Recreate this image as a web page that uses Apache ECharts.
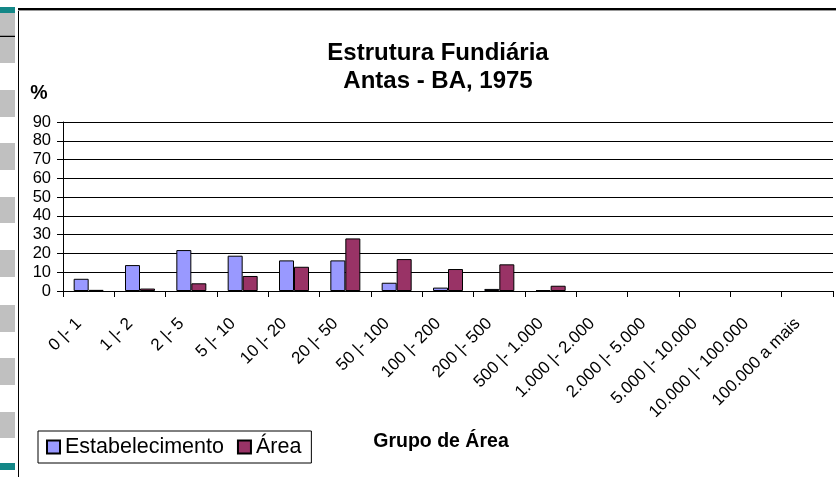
<!DOCTYPE html>
<html>
<head>
<meta charset="utf-8">
<script src="https://cdn.jsdelivr.net/npm/echarts@6/dist/echarts.min.js"></script>
<style>
html,body{margin:0;padding:0;background:#fff;}
#chart{width:836px;height:477px;}
</style>
</head>
<body>
<div id="chart"></div>
<script>
var categories = ['0 |- 1','1 |- 2','2 |- 5','5 |- 10','10 |- 20','20 |- 50','50 |- 100','100 |- 200','200 |- 500','500 |- 1.000','1.000 |- 2.000','2.000 |- 5.000','5.000 |- 10.000','10.000 |- 100.000','100.000 a mais'];
var estabelecimento = [6.5, 13.8, 21.8, 18.8, 16.3, 16.3, 4.4, 1.8, 1.1, 0.4, 0, 0, 0, 0, 0];
var area = [0.6, 1.3, 4.1, 8.0, 12.9, 28.0, 17.0, 11.7, 14.2, 2.8, 0, 0, 0, 0, 0];
var yTicks = {min: 0, max: 90, interval: 10};

var FONT = '"Liberation Sans", Arial, sans-serif';
var chart = echarts.init(document.getElementById('chart'), null, {renderer: 'canvas'});

function hideZeros(arr){ return arr.map(function(v){ return v === 0 ? '-' : v; }); }

var deco = [];
var grayBoxes = [[13,36],[38,63],[90,117],[143,170],[197,223],[250,277],[305,332],[358,385],[412,438]];
grayBoxes.forEach(function(b){
  deco.push({type:'rect', shape:{x:0, y:b[0], width:15, height:b[1]-b[0]}, style:{fill:'#c0c0c0'}, silent:true});
});
deco.push({type:'rect', shape:{x:0, y:7, width:15, height:6}, style:{fill:'#138787'}, silent:true});
deco.push({type:'rect', shape:{x:0, y:463, width:15, height:7}, style:{fill:'#138787'}, silent:true});
deco.push({type:'line', shape:{x1:0, y1:36.5, x2:15, y2:36.5}, style:{stroke:'#000', lineWidth:1.5}, silent:true});
deco.push({type:'line', shape:{x1:18.5, y1:8, x2:18.5, y2:477}, style:{stroke:'#000', lineWidth:1}, silent:true});
deco.push({type:'line', shape:{x1:18, y1:9, x2:836, y2:9}, style:{stroke:'#000', lineWidth:2}, silent:true});
deco.push({type:'line', shape:{x1:18, y1:10.5, x2:836, y2:10.5}, style:{stroke:'#999', lineWidth:1}, silent:true});

var option = {
  animation: false,
  backgroundColor: '#fff',
  textStyle: {fontFamily: FONT},
  graphic: deco,
  title: {
    text: 'Estrutura Fundiária\nAntas - BA, 1975',
    left: 433,
    top: 34,
    textAlign: 'center',
    textStyle: {fontFamily: FONT, fontSize: 24, fontWeight: 'bold', color: '#000', lineHeight: 28}
  },
  legend: {
    left: 38,
    top: 431,
    orient: 'horizontal',
    itemWidth: 13,
    itemHeight: 13,
    itemGap: 13,
    padding: [5, 10, 5, 8],
    borderColor: '#000',
    borderWidth: 1,
    textStyle: {fontFamily: FONT, fontSize: 21.5, color: '#000'},
    data: [{name:'Estabelecimento', icon:'rect'}, {name:'Área', icon:'rect'}]
  },
  grid: {left: 63, right: 3, top: 122, bottom: 186, containLabel: false},
  xAxis: {
    type: 'category',
    data: categories,
    name: 'Grupo de Área',
    nameLocation: 'middle',
    nameGap: 141,
    nameTextStyle: {fontFamily: FONT, fontSize: 19.5, fontWeight: 'bold', color: '#000', padding: [0, 14, 0, 0]},
    axisLine: {lineStyle: {color: '#000', width: 1}},
    axisTick: {show: true, alignWithLabel: false, length: 6, lineStyle: {color: '#000'}},
    axisLabel: {rotate: 45, interval: 0, margin: 20, fontFamily: FONT, fontSize: 17, color: '#000', padding: [0, 14, 0, 0]},
    splitLine: {show: false}
  },
  yAxis: {
    type: 'value',
    min: yTicks.min,
    max: yTicks.max,
    interval: yTicks.interval,
    name: '%',
    nameLocation: 'end',
    nameGap: 18,
    nameTextStyle: {fontFamily: FONT, fontSize: 19.5, fontWeight: 'bold', color: '#000', align: 'center', padding: [0, 48, 0, 0]},
    axisLine: {show: true, lineStyle: {color: '#000', width: 1}},
    axisTick: {show: true, length: 6, lineStyle: {color: '#000'}},
    axisLabel: {margin: 12, fontFamily: FONT, fontSize: 16.5, color: '#000'},
    splitLine: {show: true, lineStyle: {color: '#000', width: 1}}
  },
  series: [
    {
      name: 'Estabelecimento',
      type: 'bar',
      data: hideZeros(estabelecimento),
      barWidth: 15,
      barGap: '0%',
      itemStyle: {color: '#9999ff', borderColor: '#000', borderWidth: 1}
    },
    {
      name: 'Área',
      type: 'bar',
      data: hideZeros(area),
      barWidth: 15,
      barGap: '0%',
      itemStyle: {color: '#993366', borderColor: '#000', borderWidth: 1}
    }
  ]
};
chart.setOption(option);
</script>
</body>
</html>
